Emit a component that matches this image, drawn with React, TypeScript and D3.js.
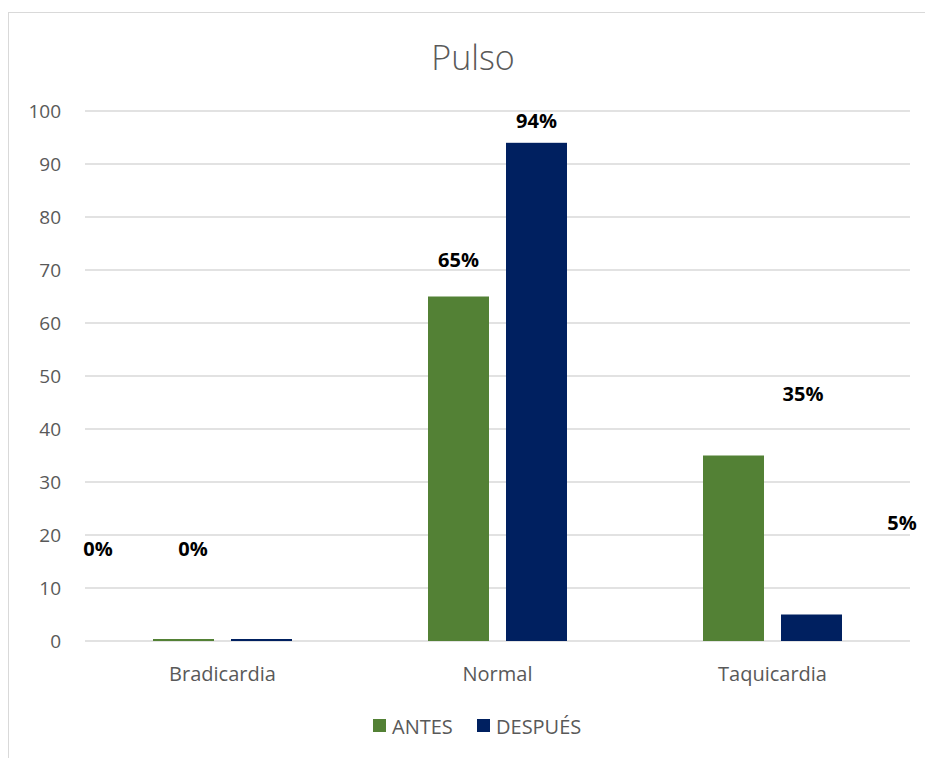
import React from "react";
import * as d3 from "d3";

const categories = ["Bradicardia", "Normal", "Taquicardia"];
const seriesNames = ["ANTES", "DESPUÉS"];
const antes = [0, 65, 35];
const despues = [0, 94, 5];
const yTicks = [0, 10, 20, 30, 40, 50, 60, 70, 80, 90, 100];

const colors = ["#538135", "#002060"];
// Manually placed data labels: offsets from bar center / bar top (px)
const labelDx = [[-85.5, 0, 69.5], [-68.5, 0, 90.5]];
const labelDy = [[-85, -29.5, -54.5], [-85, -15, -84.5]];

const W = 925;
const H = 758;
const font = "'Open Sans', 'Noto Sans', sans-serif";

export default function App() {
  const left = 85;
  const right = 910;
  const top = 111;
  const bottom = 641;

  const x0 = d3.scaleBand<string>().domain(categories).range([left, right]).paddingInner(0).paddingOuter(0);
  const y = d3.scaleLinear().domain([0, 100]).range([bottom, top]);
  const barW = 61;
  const gap = 17;
  const x1 = (si: number) => (si === 0 ? -barW - gap / 2 : gap / 2);

  const series = [antes, despues];

  return (
    <svg width={W} height={H} style={{ position: "absolute", left: 0, top: 0, background: "#fff" }}>
      <rect x={8.5} y={12.5} width={W} height={H} fill="#fff" stroke="#d9d9d9" strokeWidth={1} />
      <text x={473} y={57} textAnchor="middle" dominantBaseline="central" fontFamily={font} fontWeight={300} fontSize={34} fill="#595959">
        Pulso
      </text>
      {yTicks.map((t) => (
        <g key={t}>
          <line x1={left} x2={right} y1={y(t)} y2={y(t)} stroke="#d9d9d9" strokeWidth={1.3} />
          <text x={61} y={y(t)} textAnchor="end" dominantBaseline="central" fontFamily={font} fontSize={19} fill="#595959">
            {t}
          </text>
        </g>
      ))}
      {categories.map((c, ci) => {
        const cx = (x0(c) as number) + x0.bandwidth() / 2;
        return (
          <g key={c}>
            {series.map((vals, si) => {
              const v = vals[ci];
              const h = Math.max(bottom - y(v), 2);
              const bx = cx + x1(si);
              return <rect key={si} x={bx} y={bottom - h} width={barW} height={h} fill={colors[si]} />;
            })}
            {series.map((vals, si) => {
              const v = vals[ci];
              const bc = cx + x1(si) + barW / 2;
              return (
                <text key={"l" + si} x={bc + labelDx[si][ci]} y={y(v) + labelDy[si][ci]} textAnchor="middle" fontFamily={font} fontWeight={700} fontSize={20} fill="#000">
                  {v}%
                </text>
              );
            })}
            <text x={cx} y={673} textAnchor="middle" dominantBaseline="central" fontFamily={font} fontSize={20} fill="#595959">
              {c}
            </text>
          </g>
        );
      })}
      {seriesNames.map((s, si) => {
        const lx = si === 0 ? 373 : 477;
        return (
          <g key={s}>
            <rect x={lx} y={719} width={13} height={13} fill={colors[si]} />
            <text x={lx + 19} y={726} dominantBaseline="central" fontFamily={font} fontSize={20} fill="#595959">
              {s}
            </text>
          </g>
        );
      })}
    </svg>
  );
}
